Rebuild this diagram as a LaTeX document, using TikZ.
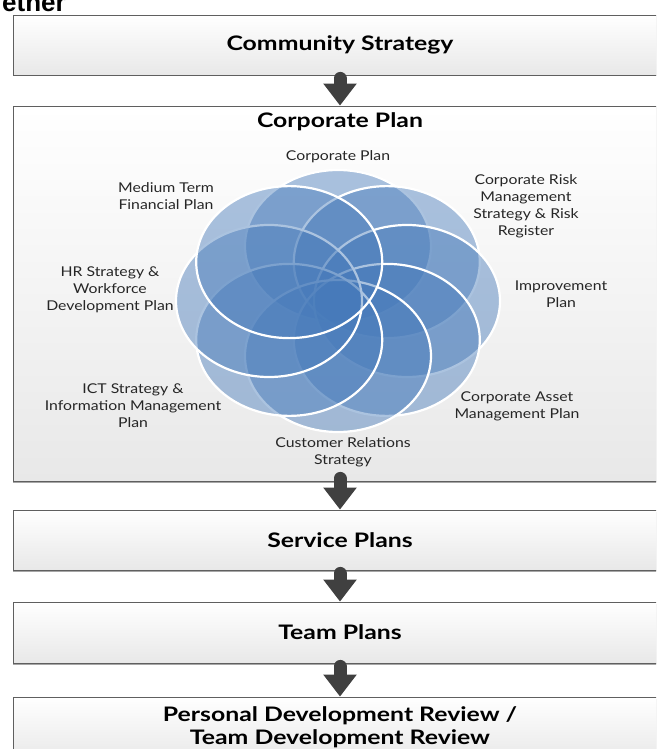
\documentclass[tikz,border=0pt]{standalone}
\usepackage{fontspec}
\setmainfont{Lato}
\newfontfamily\arialfont{Liberation Sans}
\usetikzlibrary{arrows.meta,shadows}
\definecolor{petalblue}{RGB}{70,122,186}
\definecolor{arrowgray}{RGB}{64,64,64}
\definecolor{boxline}{RGB}{95,95,95}
\begin{document}
\begin{tikzpicture}[x=1pt,y=-1pt,
  planbox/.style={draw=boxline, line width=0.8pt, top color=white, bottom color=black!9,
    minimum width=654pt, inner sep=0pt,
    drop shadow={shadow xshift=0pt, shadow yshift=-1.5pt, opacity=0.35, fill=black}},
  boxtext/.style={font=\bfseries\fontsize{20}{23}\selectfont, align=center, inner sep=0pt, xscale=1.24},
  bigarrow/.style={draw=arrowgray, line width=13pt, line cap=round,
    -{Triangle[width=32pt,length=22pt]}},
  petal/.style={fill=petalblue, fill opacity=0.45, draw=white, draw opacity=1, line width=2.2pt},
  lbl/.style={font=\fontsize{13.5}{17}\selectfont, align=center, inner sep=0pt, text=black!85, xscale=1.17}]
\useasboundingbox (0,0) rectangle (656,749);
\clip (0,0) rectangle (656,749);
\fill[white] (0,0) rectangle (656,749);

% cut-off heading
\node[anchor=base east, inner sep=0pt, font=\arialfont\bfseries\fontsize{26}{26}\selectfont] (head) at (66,12) {ether};

% boxes
\node[planbox, minimum height=60pt] (b1) at (340,45) {};
\node[boxtext] (t1) at (b1) {Community Strategy};
\node[planbox, minimum height=375pt] (b2) at (340,293.5) {};
\node[boxtext] (t2) at (340,122) {Corporate Plan};
\node[planbox, minimum height=60pt] (b3) at (340,540) {};
\node[boxtext] (t3) at (b3) {Service Plans};
\node[planbox, minimum height=61pt] (b4) at (340,632.5) {};
\node[boxtext] (t4) at (b4) {Team Plans};
\node[planbox, minimum height=64pt] (b5) at (340,729) {};
\node[boxtext] (t5) at (340,727) {Personal Development Review /\\Team Development Review};

% rosette of ellipses
\foreach \a in {90,45,0,-45,-90,-135,180,135}{
  \path[petal] ({338+69*cos(\a)},{301-55*sin(\a)}) ellipse [x radius=93, y radius=76];
}

% labels
\node[lbl] (l1) at (338,157) {Corporate Plan};
\node[lbl] (l2) at (166,196) {Medium Term\\Financial Plan};
\node[lbl] (l3) at (110,290) {HR Strategy \&\\Workforce\\Development Plan};
\node[lbl] (l4) at (133,406) {ICT Strategy \&\\Information Management\\Plan};
\node[lbl] (l5) at (526,206) {Corporate Risk\\Management\\Strategy \& Risk\\Register};
\node[lbl] (l6) at (561,294) {Improvement\\Plan};
\node[lbl] (l7) at (517,406) {Corporate Asset\\Management Plan};
\node[lbl] (l8) at (343,452) {Customer Relations\\Strategy};

% arrows
\draw[bigarrow] ([yshift=-3pt]b1.south) -- (b2.north);
\draw[bigarrow] ([yshift=3pt]b2.south) -- (b3.north);
\draw[bigarrow] ([yshift=-3pt]b3.south) -- (b4.north);
\draw[bigarrow] ([yshift=-3pt]b4.south) -- (b5.north);
\end{tikzpicture}
\end{document}
